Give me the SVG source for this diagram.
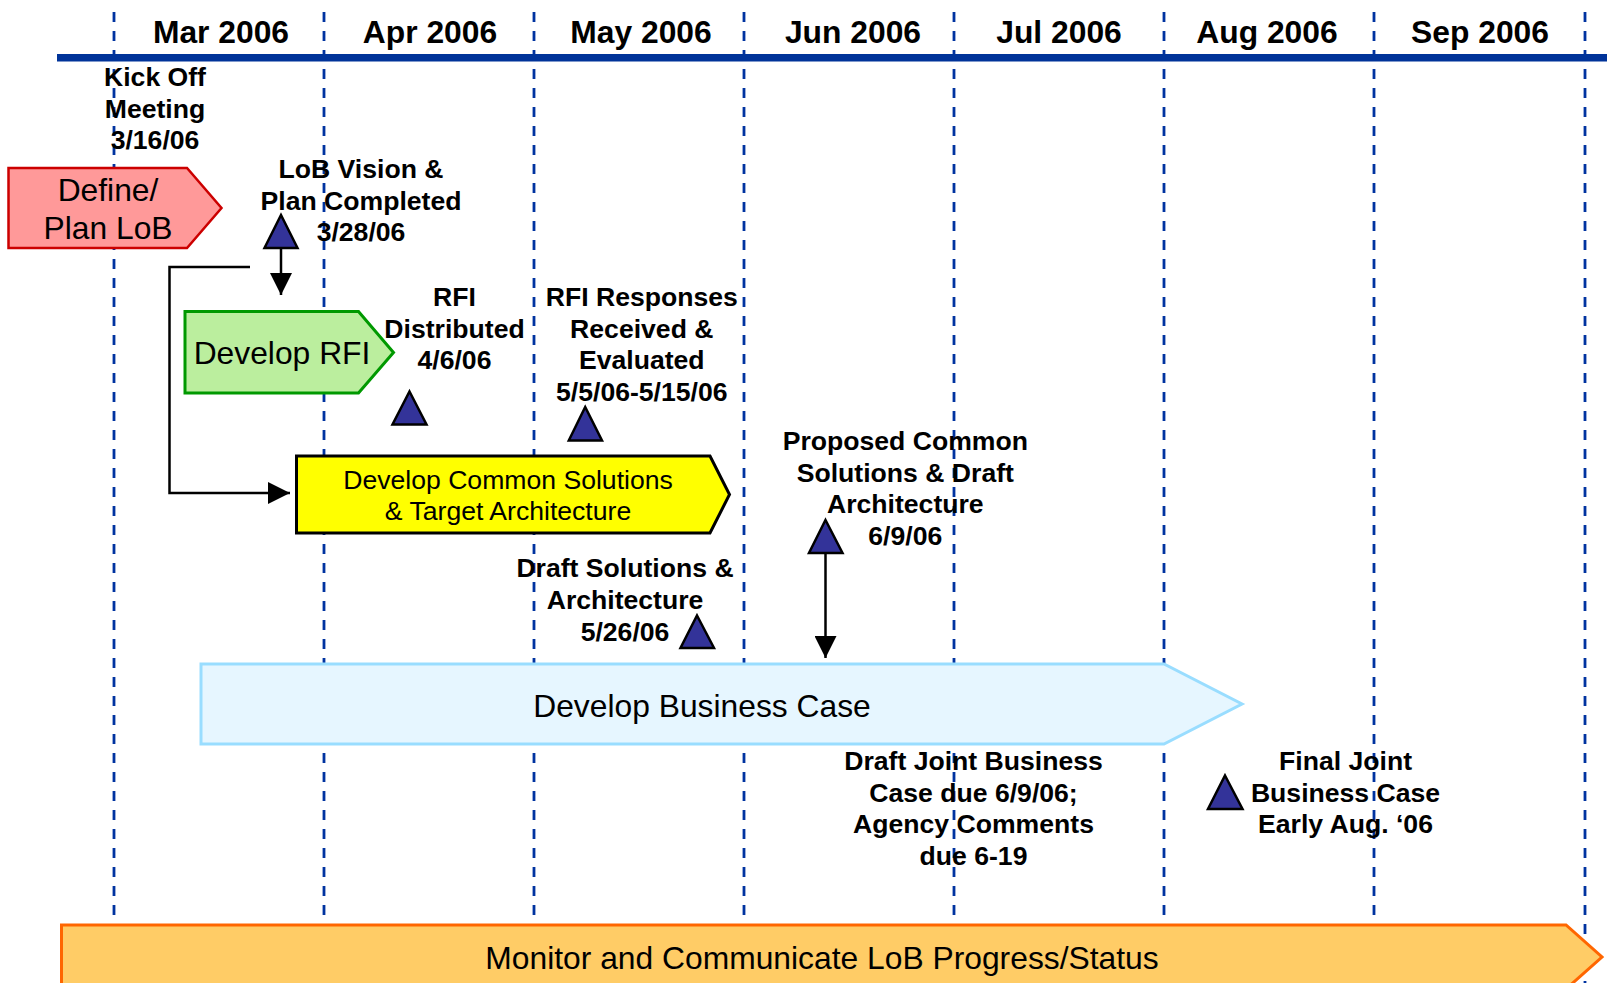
<svg xmlns="http://www.w3.org/2000/svg" width="1607" height="983" viewBox="0 0 1607 983">
<style>
text{font-family:"Liberation Sans",Arial,sans-serif;fill:#000;text-anchor:middle}
.mon{font-size:31.8px;font-weight:bold}
.lbl{font-size:26.6px;font-weight:bold}
.big{font-size:31.8px}
.mid{font-size:26.6px}
.grid{stroke:#0033a0;stroke-width:2.8;stroke-dasharray:10 9;fill:none}
.ms{fill:#333399;stroke:#000;stroke-width:2.5;stroke-linejoin:miter}
.con{stroke:#000;stroke-width:2.5;fill:none}
</style>
<defs>
<marker id="ah" markerUnits="userSpaceOnUse" markerWidth="22" markerHeight="22" viewBox="0 0 20 20" refX="20" refY="10" orient="auto">
<path d="M0,0 L20,10 L0,20 Z" fill="#000"/>
</marker>
</defs>
<rect width="1607" height="983" fill="#fff"/>
<g id="grid">
<line class="grid" x1="114" y1="12" x2="114" y2="983"/>
<line class="grid" x1="324" y1="12" x2="324" y2="983"/>
<line class="grid" x1="534" y1="12" x2="534" y2="983"/>
<line class="grid" x1="744" y1="12" x2="744" y2="983"/>
<line class="grid" x1="954" y1="12" x2="954" y2="983"/>
<line class="grid" x1="1164" y1="12" x2="1164" y2="983"/>
<line class="grid" x1="1374" y1="12" x2="1374" y2="983"/>
<line class="grid" x1="1585" y1="12" x2="1585" y2="983"/>
</g>
<g id="header">
<rect x="57" y="54" width="1550" height="7.5" fill="#003399"/>
<text class="mon" x="221" y="43">Mar 2006</text>
<text class="mon" x="430" y="43">Apr 2006</text>
<text class="mon" x="641" y="43">May 2006</text>
<text class="mon" x="853" y="43">Jun 2006</text>
<text class="mon" x="1059" y="43">Jul 2006</text>
<text class="mon" x="1267" y="43">Aug 2006</text>
<text class="mon" x="1480" y="43">Sep 2006</text>
</g>
<g id="define-plan-lob">
<polygon points="8.5,168 187,168 221.5,208 187,248 8.5,248" fill="#ff9999" stroke="#cc0000" stroke-width="2.5"/>
<text class="big" x="108" y="201">Define/</text>
<text class="big" x="108" y="239">Plan LoB</text>
</g>
<g id="develop-rfi">
<polygon points="185,311.5 358.5,311.5 393.5,352.5 358.5,393 185,393" fill="#bbee9e" stroke="#009900" stroke-width="3"/>
<text class="big" x="282" y="363.5">Develop RFI</text>
</g>
<g id="develop-common-solutions">
<polygon points="296.5,456 710,456 729.5,494.5 710,533 296.5,533" fill="#ffff00" stroke="#000" stroke-width="3"/>
<text class="mid" x="508" y="488.5">Develop Common Solutions</text>
<text class="mid" x="508" y="519.5">&amp; Target Architecture</text>
</g>
<g id="develop-business-case">
<polygon points="201,664 1164,664 1242,704 1164,744 201,744" fill="#e6f6ff" stroke="#99ddff" stroke-width="3"/>
<text class="big" x="702" y="716.5">Develop Business Case</text>
</g>
<g id="monitor">
<polygon points="61.5,925 1566,925 1602,957 1566,989 61.5,989" fill="#ffcc66" stroke="#ff6600" stroke-width="3"/>
<text class="big" x="822" y="968.5">Monitor and Communicate LoB Progress/Status</text>
</g>
<g id="connectors">
<line class="con" x1="281" y1="248" x2="281" y2="295" marker-end="url(#ah)"/>
<path class="con" d="M250,267 H169.5 V493 H290" marker-end="url(#ah)"/>
<line class="con" x1="825.5" y1="553" x2="825.5" y2="658" marker-end="url(#ah)"/>
</g>
<g id="kickoff">
<text class="lbl" x="155" y="86">Kick Off</text>
<text class="lbl" x="155" y="117.5">Meeting</text>
<text class="lbl" x="155" y="149">3/16/06</text>
</g>
<g id="lob-vision">
<text class="lbl" x="361" y="178">LoB Vision &amp;</text>
<text class="lbl" x="361" y="209.5">Plan Completed</text>
<text class="lbl" x="361" y="241">3/28/06</text>
<polygon class="ms" points="281,215 297.5,248 264.5,248"/>
</g>
<g id="rfi-distributed">
<text class="lbl" x="454.5" y="305.5">RFI</text>
<text class="lbl" x="454.5" y="337.5">Distributed</text>
<text class="lbl" x="454.5" y="369">4/6/06</text>
<polygon class="ms" points="409.5,391.5 426.5,424.5 392.5,424.5"/>
</g>
<g id="rfi-responses">
<text class="lbl" x="641.8" y="305.5">RFI Responses</text>
<text class="lbl" x="641.8" y="337.5">Received &amp;</text>
<text class="lbl" x="641.8" y="369">Evaluated</text>
<text class="lbl" x="641.8" y="401">5/5/06-5/15/06</text>
<polygon class="ms" points="585.2,407 602,440.5 568.8,440.5"/>
</g>
<g id="proposed-common">
<text class="lbl" x="905.3" y="450">Proposed Common</text>
<text class="lbl" x="905.3" y="481.7">Solutions &amp; Draft</text>
<text class="lbl" x="905.3" y="513.3">Architecture</text>
<text class="lbl" x="905.3" y="545">6/9/06</text>
<polygon class="ms" points="825.5,520 842.5,553 809,553"/>
</g>
<g id="draft-solutions">
<text class="lbl" x="625" y="577">Draft Solutions &amp;</text>
<text class="lbl" x="625" y="608.5">Architecture</text>
<text class="lbl" x="625" y="640.5">5/26/06</text>
<polygon class="ms" points="697,615.5 714,648 680.5,648"/>
</g>
<g id="draft-joint">
<text class="lbl" x="973.5" y="770">Draft Joint Business</text>
<text class="lbl" x="973.5" y="801.7">Case due 6/9/06;</text>
<text class="lbl" x="973.5" y="833.3">Agency Comments</text>
<text class="lbl" x="973.5" y="865">due 6-19</text>
</g>
<g id="final-joint">
<text class="lbl" x="1345.5" y="770">Final Joint</text>
<text class="lbl" x="1345.5" y="801.7">Business Case</text>
<text class="lbl" x="1345.5" y="833.3">Early Aug. ‘06</text>
<polygon class="ms" points="1225,775.5 1242.5,809 1208,809"/>
</g>
</svg>
